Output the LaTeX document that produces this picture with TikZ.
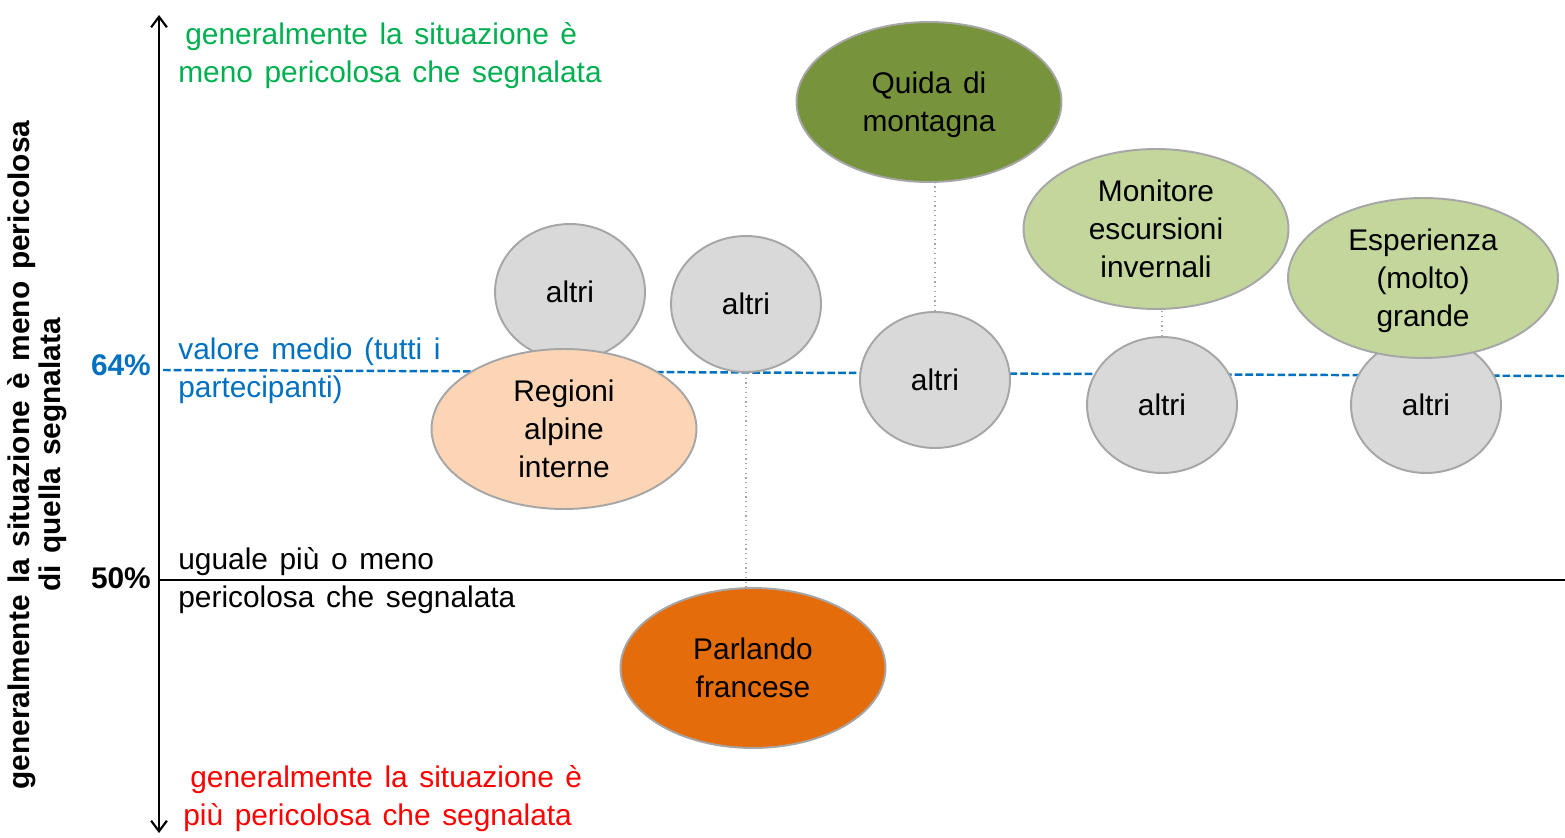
\documentclass[tikz,border=0pt]{standalone}
\usepackage{fontspec}
\setmainfont[WordSpace=1.4]{Liberation Sans}
\usetikzlibrary{shapes.geometric, arrows.meta}
\definecolor{upgreen}{HTML}{00B050}
\definecolor{downred}{HTML}{FF0000}
\definecolor{avgblue}{HTML}{0070C0}
\definecolor{darkolive}{HTML}{77933C}
\definecolor{lightolive}{HTML}{C3D69B}
\definecolor{peach}{HTML}{FBD5B5}
\definecolor{deeporange}{HTML}{E46C0A}
\definecolor{altrigrey}{HTML}{D9D9D9}
\definecolor{rimgrey}{HTML}{A6A6A6}
\begin{document}
\begin{tikzpicture}[x=0.02cm, y=-0.02cm, font=\fontsize{17}{21.6}\selectfont,
        >={Straight Barb[length=6pt, width=9pt, line width=1.2pt]},
        bubble/.style={ellipse, draw=rimgrey, line width=1.1pt, inner sep=0pt, align=center},
        altri/.style={bubble, fill=altrigrey, minimum width=3cm, minimum height=2.72cm},
        group/.style={bubble, minimum width=5.3cm, minimum height=3.2cm},
        link/.style={rimgrey, dotted, line width=0.7pt}]
    \useasboundingbox (0,0) rectangle (1565,838);
    % axes
    \draw[line width=1.5pt, <->] (159,833) -- (159,15);
    \draw[line width=1.5pt] (159,580) -- (1565,580);
    \draw[avgblue, line width=1.4pt, dash pattern=on 4.3pt off 1.8pt] (163,370) -- (1565,376);
    \node[anchor=east, avgblue, font=\fontsize{17}{21.6}\selectfont\bfseries] (p64) at (157,365) {64\%};
    \node[anchor=east, font=\fontsize{17}{21.6}\selectfont\bfseries] (p50) at (157,578) {50\%};
    \node[rotate=90, align=center, font=\fontsize{17}{17.5}\selectfont\bfseries] (ylab) at (37,455)
        {generalmente la situazione è meno pericolosa\\di quella segnalata};
    % texts
    \node[anchor=west, align=left, upgreen, inner sep=0pt] (up) at (178,56)
        {\hspace{0.14cm}generalmente la situazione è\\meno pericolosa che segnalata};
    \node[anchor=west, align=left, avgblue, inner sep=0pt] (avg) at (178,371)
        {valore medio (tutti i\\partecipanti)};
    \node[anchor=west, align=left, inner sep=0pt] (equal) at (178,581)
        {uguale più o meno\\pericolosa che segnalata};
    \node[anchor=west, align=left, downred, inner sep=0pt] (down) at (183,799)
        {\hspace{0.14cm}generalmente la situazione è\\più pericolosa che segnalata};
    % bubbles
    \node[altri] (altriA) at (570,292) {altri};
    \node[altri] (altriB) at (746,304) {altri};
    \node[altri] (altriC) at (935,380) {altri};
    \node[altri] (altriD) at (1162,405) {altri};
    \node[altri] (altriE) at (1426,405) {altri};
    \node[group, fill=darkolive] (guide) at (929,102) {Quida di\\\smash{montagna}};
    \node[group, fill=lightolive] (monitor) at (1156,229) {Monitore\\escursioni\\invernali};
    \node[group, fill=lightolive, minimum width=5.4cm] (expert) at (1423,278) {Esperienza\\(molto)\\\smash{grande}};
    \node[group, fill=peach] (alpine) at (564,429) {Regioni\\alpine\\interne};
    \node[group, fill=deeporange] (french) at (753,668) {Parlando\\francese};
    % links
    \draw[link] (altriB.south) -- (altriB.south |- french.north);
    \draw[link] (altriC.north) -- (altriC.north |- guide.south);
    \draw[link] (altriD.north) -- (altriD.north |- monitor.south);
\end{tikzpicture}
\end{document}
